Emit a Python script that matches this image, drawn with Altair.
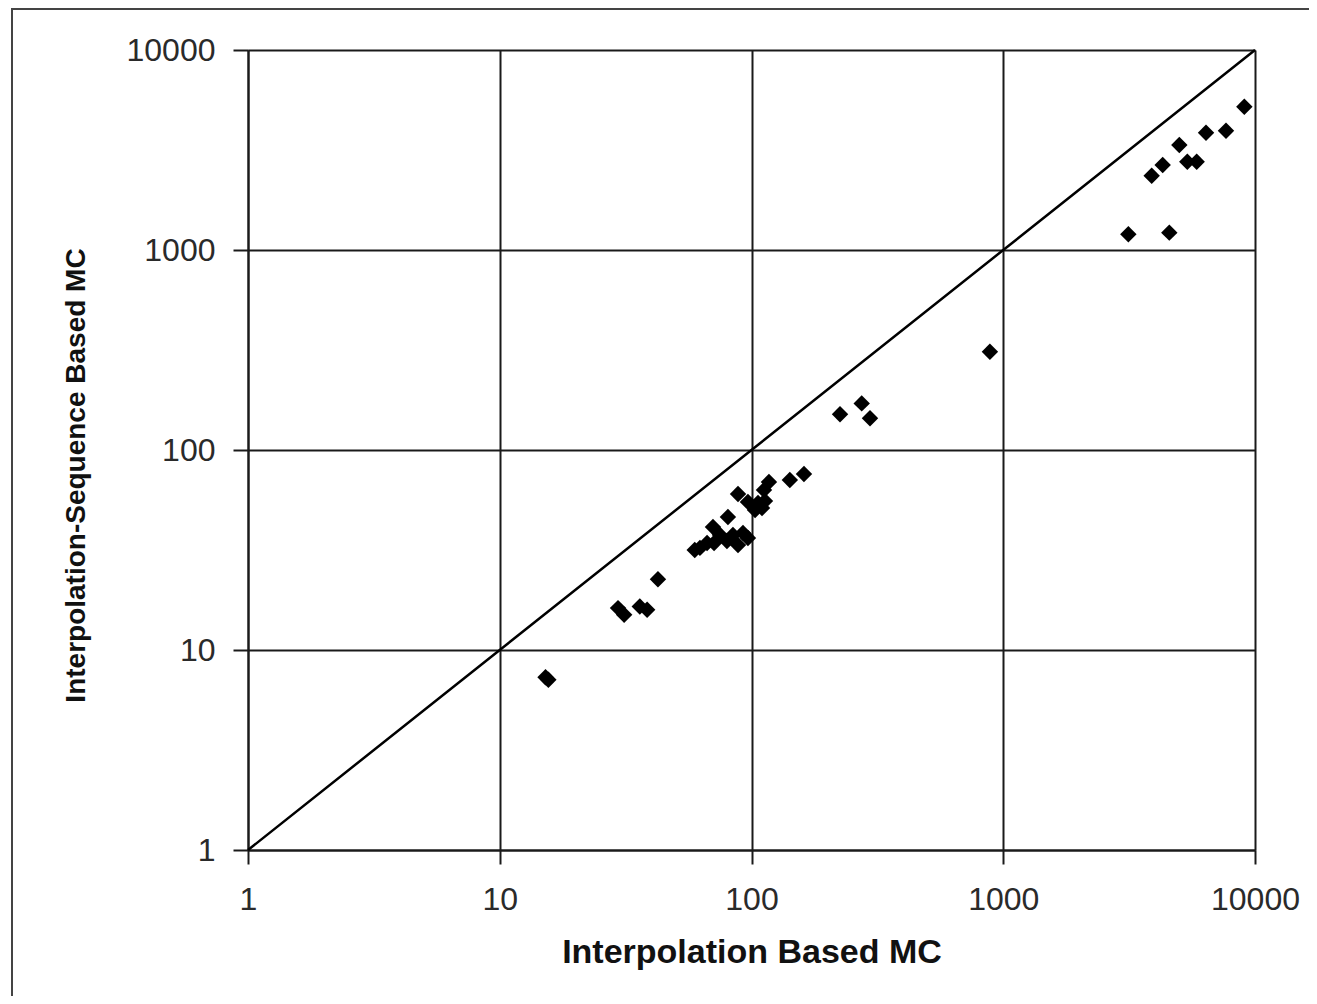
import altair as alt
import pandas as pd

# Scatter points (x: Interpolation Based MC, y: Interpolation-Sequence Based MC)
interp_mc = [15.2, 15.6, 29.5, 31.2, 36.0, 38.5, 42.5,
             59.5, 62.4, 66.6, 70.3, 71.0, 75.0, 79.9, 84.4, 88.4, 92.5, 96.8,
             80.6, 88.4, 96.8, 103.3, 106.1, 110.1, 113.1, 117.3, 112.1,
             142.0, 161.6, 224.7, 274.0, 295.6, 885.0,
             3140, 4567, 3887, 4298, 5005, 5384, 5866, 6389, 7670, 9070]
interp_seq_mc = [7.3, 7.1, 16.2, 15.0, 16.5, 15.9, 22.6,
                 31.6, 32.4, 34.3, 41.2, 34.3, 37.6, 35.1, 37.6, 33.5, 38.5, 36.3,
                 46.2, 60.3, 55.0, 50.1, 54.3, 51.3, 55.6, 69.2, 63.1,
                 70.8, 75.9, 151.0, 171.0, 144.0, 310.0,
                 1198, 1221, 2352, 2661, 3350, 2764, 2764, 3860, 3950, 5207]

# y = x reference line
diag_x = [1, 10, 100, 1000, 10000]
diag_y = [1, 10, 100, 1000, 10000]

ticks = [1, 10, 100, 1000, 10000]

pts = pd.DataFrame({"x": interp_mc, "y": interp_seq_mc})
diag = pd.DataFrame({"x": diag_x, "y": diag_y})

W, H = 1007, 800
FONT = "Liberation Sans"

xscale = alt.Scale(type="log", domain=[1, 10000], nice=False)
yscale = alt.Scale(type="log", domain=[1, 10000], nice=False)

xaxis = alt.Axis(values=ticks, format="d", title="Interpolation Based MC",
                 grid=True, gridColor="#1a1a1a", gridWidth=2, gridOpacity=1,
                 domainColor="#1a1a1a", domainWidth=2,
                 tickColor="#1a1a1a", tickWidth=2, tickSize=14,
                 labelFont=FONT, labelFontSize=32, labelColor="#2a2a2a",
                 labelPadding=20, labelFlush=False,
                 titleFont=FONT, titleFontSize=34, titleFontWeight="bold",
                 titleColor="#111111", titleX=W / 2, titleY=102,
                 titleBaseline="middle", titleAlign="center")
yaxis = alt.Axis(values=ticks, format="d", title="Interpolation-Sequence Based MC",
                 grid=True, gridColor="#1a1a1a", gridWidth=2, gridOpacity=1,
                 domainColor="#1a1a1a", domainWidth=2,
                 tickColor="#1a1a1a", tickWidth=2, tickSize=15,
                 labelFont=FONT, labelFontSize=32, labelColor="#2a2a2a",
                 labelPadding=18, labelFlush=False,
                 titleFont=FONT, titleFontSize=28, titleFontWeight="bold",
                 titleColor="#111111", titleX=-172, titleY=425,
                 titleBaseline="middle", titleAlign="center")

frame = alt.Chart(pd.DataFrame({"a": [0]})).mark_rect(
    fill=None, stroke="#444444", strokeWidth=2
).encode(
    x=alt.value(-236), x2=alt.value(W + 400),
    y=alt.value(-41), y2=alt.value(H + 400),
)

line = alt.Chart(diag).mark_line(color="#000000", strokeWidth=2.5).encode(
    x=alt.X("x:Q", scale=xscale, axis=xaxis),
    y=alt.Y("y:Q", scale=yscale, axis=yaxis),
)

points = alt.Chart(pts).mark_point(
    shape="diamond", filled=True, color="#000000", size=270, opacity=1
).encode(
    x=alt.X("x:Q", scale=xscale),
    y=alt.Y("y:Q", scale=yscale),
)

chart = alt.layer(frame, line, points).properties(
    width=W, height=H,
    autosize=alt.AutoSizeParams(type="none"),
    padding={"left": 240, "top": 42, "right": 54, "bottom": 146},
).configure_view(stroke="#1a1a1a", strokeWidth=2).configure(background="white")

chart.save("out.html", embed_options={"renderer": "svg", "actions": False})
